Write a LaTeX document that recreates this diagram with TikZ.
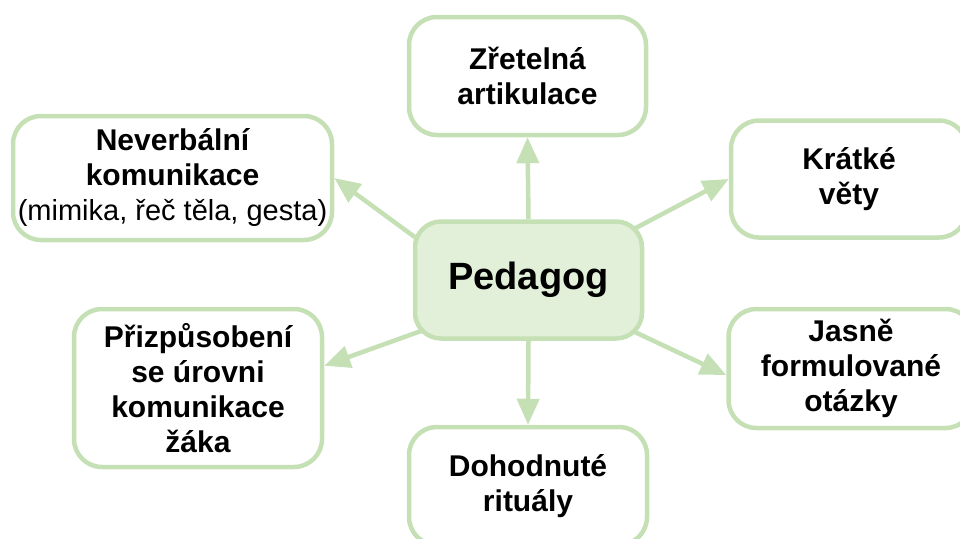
\documentclass[tikz,border=0pt]{standalone}
\usepackage{fontspec}
\setmainfont{Liberation Sans}
\usetikzlibrary{arrows.meta,calc}
\pgfdeclarelayer{bg}
\pgfsetlayers{bg,main}
\definecolor{gline}{HTML}{C5E0B4}
\definecolor{gfill}{HTML}{E2F0D9}
\tikzset{
  box/.style={draw=gline, line width=4.5pt, rounded corners=28pt, fill=white,
    align=center, inner sep=2pt, font=\bfseries\fontsize{30}{35}\selectfont},
  conn/.style={draw=gline, line width=4.5pt, -{Triangle[length=26pt,width=22pt]}},
}
\begin{document}
\begin{tikzpicture}[x=1pt,y=-1pt]
\clip (0,0) rectangle (960,538);
\node[box, minimum width=237pt, minimum height=118pt] (zre) at (527.5,76) {Zřetelná\\artikulace};
\node[box, minimum width=319pt, minimum height=124pt] (nev) at (172.5,178) {Neverbální\\komunikace\\{\mdseries\fontsize{29}{35}\selectfont (mimika, řeč těla, gesta)}};
\node[box, minimum width=236pt, minimum height=117pt] (krat) at (849,179) {Krátké\\věty};
\node[box, fill=gfill, rounded corners=26pt, minimum width=227pt, minimum height=117pt, font=\bfseries\fontsize{38}{44}\selectfont] (ped) at (528.5,280) {Pedagog};
\node[box, minimum width=248pt, minimum height=158pt] (pri) at (198,388) {Přizpůsobení\\se úrovni\\komunikace\\žáka};
\node[box, minimum width=245pt, minimum height=119pt] (jas) at (851,368.5) {Jasně\\formulované\\otázky};
\node[box, minimum width=238pt, minimum height=118pt] (doh) at (528,486) {Dohodnuté\\rituály};
\begin{pgfonlayer}{bg}
\draw[conn] (ped.center |- ped.north) -- (zre.south);
\draw[conn] (ped.south) -- (doh.north);
\draw[conn] ($(ped.159)!-20pt!(nev.east)$) -- (nev.east);
\draw[conn] ($(ped.26.7)!-20pt!(krat.west)$) -- (krat.west);
\draw[conn] ($(ped.205)!-20pt!(pri.10)$) -- (pri.10);
\draw[conn] ($(ped.-26.7)!-20pt!(jas.183)$) -- (jas.183);
\end{pgfonlayer}
\end{tikzpicture}
\end{document}
